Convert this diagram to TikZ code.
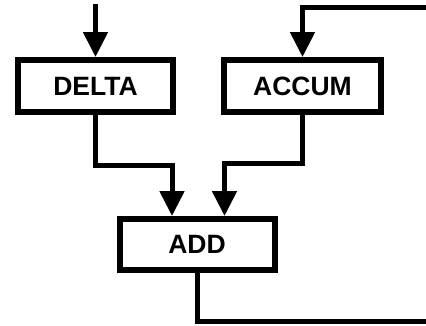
\documentclass[tikz,border=0pt]{standalone}
\usepackage{fontspec}
\setmainfont{Liberation Sans}
\usetikzlibrary{arrows.meta}
\begin{document}
\begin{tikzpicture}[x=1pt,y=-1pt,
  blk/.style={draw, line width=6pt, minimum width=155pt, minimum height=52pt, inner sep=0pt,
    font=\fontsize{26.5}{30}\selectfont\bfseries},
  wire/.style={line width=5pt, line join=miter},
  arr/.style={wire, -{Triangle[length=25pt,width=24pt]}}]
\useasboundingbox (0,0) rectangle (426,325);
\node[blk] (delta) at (95.5,86) {DELTA};
\node[blk, minimum width=157pt] (accum) at (302.5,86) {ACCUM};
\node[blk, minimum height=51pt] (add) at (197,244.5) {ADD};
% input
\coordinate (in) at (95.5,4);
\draw[arr] (in) -- (delta.north);
% delta -> add
\coordinate (d1) at (95.5,165);
\coordinate (d2) at (172,165);
\coordinate (d3) at (172,216);
\draw[arr] (delta.south) -- (d1) -- (d2) -- (d3);
% accum -> add
\coordinate (a1) at (302.5,163.5);
\coordinate (a2) at (224.5,163.5);
\coordinate (a3) at (224.5,216);
\draw[arr] (accum.south) -- (a1) -- (a2) -- (a3);
% feedback add -> accum
\coordinate (f1) at (197,321);
\coordinate (f2) at (445,321);
\coordinate (f3) at (445,7.5);
\coordinate (f4) at (302.5,7.5);
\draw[arr] (add.south) -- (f1) -- (f2) -- (f3) -- (f4) -- (accum.north);
\end{tikzpicture}
\end{document}
